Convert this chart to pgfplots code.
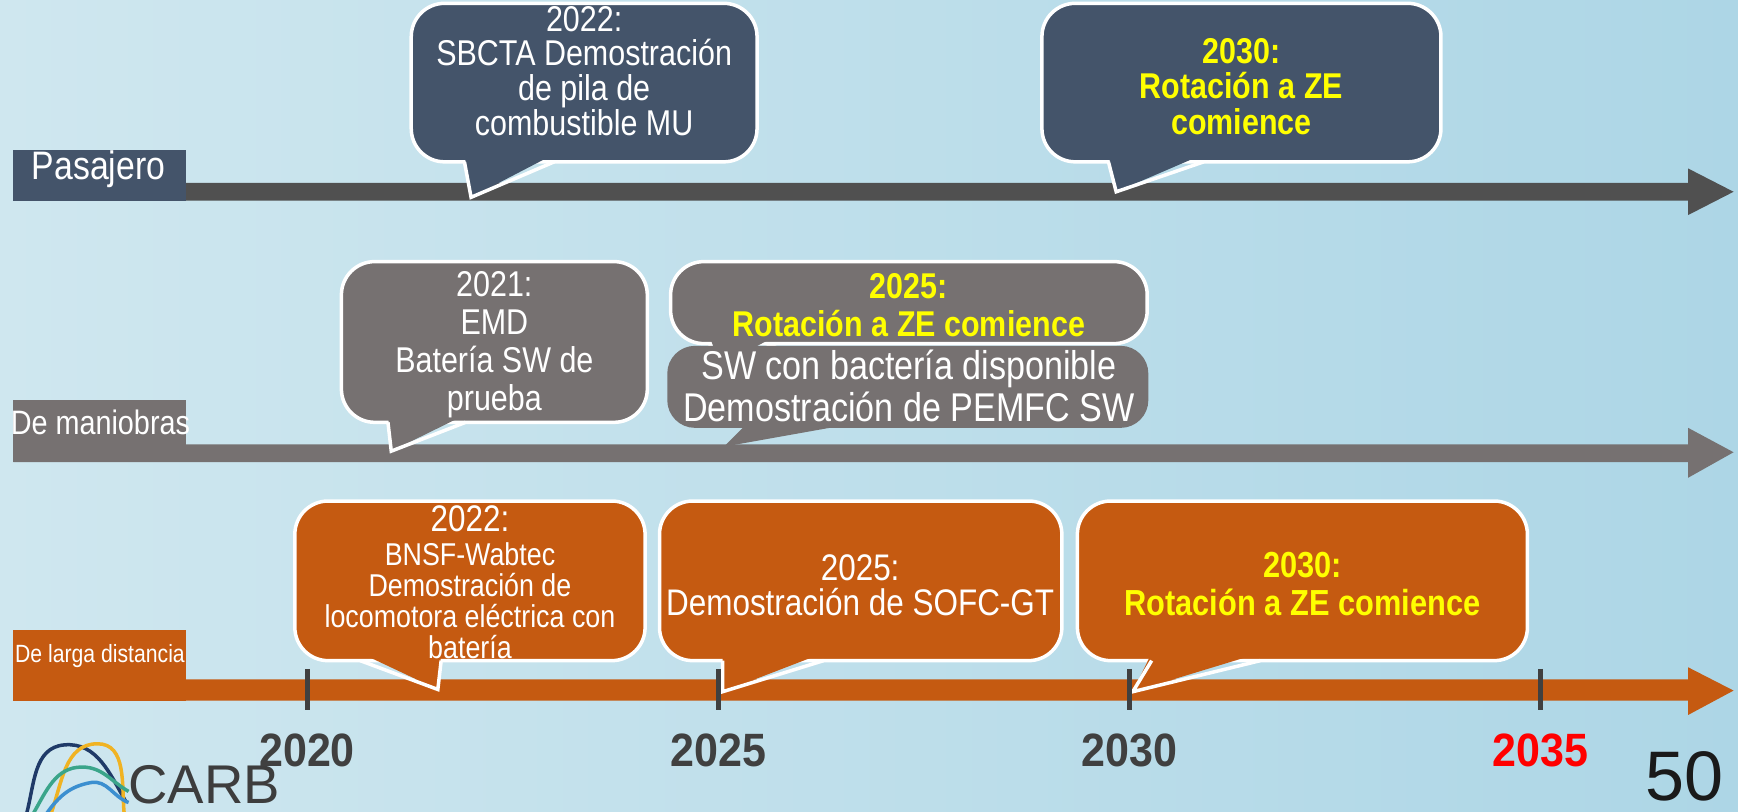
\documentclass[border=0pt]{standalone}
\usepackage{pgfplots}
\usepackage{pgfplotstable}
\pgfplotsset{compat=1.18}
\usepackage{fontspec}
\setmainfont{Liberation Sans}[FakeStretch=0.85]
\newfontfamily\yearfont{Liberation Sans}[FakeStretch=0.92]
\newfontfamily\logofont{Liberation Sans}
\definecolor{pas}{HTML}{44546A}
\definecolor{pasbar}{HTML}{505050}
\definecolor{man}{HTML}{767171}
\definecolor{lar}{HTML}{C55A11}
\definecolor{yel}{HTML}{FFFF00}
\definecolor{tickc}{HTML}{404040}
\definecolor{bgL}{HTML}{CFE7EF}
\definecolor{bgM}{HTML}{EEF8FB}
\definecolor{bgR}{HTML}{ADD6E6}

\pgfplotstableread{
year label
2020 2020
2025 2025
2030 2030
2035 2035
}\yearsall
\pgfplotstableread{
year label
2020 2020
2025 2025
2030 2030
}\yearsgray
\pgfplotstableread{
year label
2035 2035
}\yearsred

% bubble: fill, L, T, R, B, tail base 1, tip x, tip y, tail base 2
\newcommand{\bubble}[9]{%
  \filldraw[fill=#1, draw=white, line width=0.9pt, rounded corners=3mm] (#2,#3) rectangle (#4,#5);
  \fill[#1] (#6,#5-7) -- (#7,#8) -- (#9,#5-7) -- cycle;
  \draw[white, line width=0.9pt] (#6,#5) -- (#7,#8) -- (#9,#5);
}

\begin{document}
\begin{tikzpicture}
\begin{axis}[name=ax, at={(0,0)}, anchor=south west, scale only axis,
  width=15.68cm, height=7.32cm, xmin=0, xmax=1568, ymin=0, ymax=732,
  y dir=reverse, axis lines=none, clip=true]

% background
\shade[left color=bgL, middle color=bgM, right color=bgR] (0,0) rectangle (1568,732);

% timeline bars
\addplot[fill=pasbar, draw=none] coordinates {(12,165) (1523,165) (1523,152) (1564,173) (1523,194) (1523,181) (12,181)};
\addplot[fill=man, draw=none] coordinates {(12,401) (1523,401) (1523,386) (1564,408) (1523,431) (1523,417) (12,417)};
\addplot[fill=lar, draw=none] coordinates {(12,613) (1523,613) (1523,602) (1564,623) (1523,645) (1523,632) (12,632)};

% row labels
\fill[pas] (12,135) rectangle (168,181);
\fill[man] (12,361) rectangle (168,417);
\fill[lar] (12,568) rectangle (168,632);
\node[anchor=west, inner sep=0, text=white, font=\fontsize{10.2}{10.2}\selectfont] at (28,153) {Pasajero};
\node[anchor=west, inner sep=0, text=white, font=\fontsize{8.7}{8.7}\selectfont] at (9,381) {De maniobras};
\node[anchor=west, inner sep=0, text=white, font=\fontsize{6.4}{6.4}\selectfont] at (13,592) {De larga distancia};

% Pasajero bubbles
\bubble{pas}{371}{3}{683}{146}{419}{425}{178}{500}
\node[text=white, align=center, font=\fontsize{9.2}{8.9}\selectfont] at (527,64) {2022:\\SBCTA Demostración\\de pila de\\combustible MU};
\bubble{pas}{940}{3}{1300}{146}{1000}{1007}{173}{1086}
\node[text=yel, align=center, font=\bfseries\fontsize{9.2}{9.1}\selectfont] at (1120,78) {2030:\\Rotación a ZE\\comience};

% De maniobras bubbles
\bubble{man}{308}{236}{584}{381}{350}{353}{407}{420}
\node[text=white, align=center, font=\fontsize{9.2}{9.7}\selectfont] at (446,311) {2021:\\EMD\\Batería SW de\\prueba};
\bubble{man}{605}{236}{1035}{310}{640}{650}{330}{700}
\node[text=yel, align=center, font=\bfseries\fontsize{9.2}{9.7}\selectfont] at (820,275) {2025:\\Rotación a ZE comience};
\fill[man, rounded corners=2.5mm] (602,312) rectangle (1036,386);
\fill[man] (676,380) -- (653,403) -- (782,380) -- cycle;
\node[text=white, align=center, font=\fontsize{10.3}{10.8}\selectfont] at (820,348) {SW con bactería disponible\\Demostración de PEMFC SW};

% De larga distancia bubbles
\bubble{lar}{266}{452}{582}{596}{325}{395}{622}{398}
\node[text=white, font=\fontsize{9.5}{9.5}\selectfont] at (424,468) {2022:};
\node[text=white, align=center, font=\fontsize{8.1}{7.9}\selectfont] at (424,542) {BNSF-Wabtec\\Demostración de\\locomotora eléctrica con\\batería};
\bubble{lar}{595}{452}{958}{596}{652}{652}{624}{743}
\node[text=white, align=center, font=\fontsize{9.5}{8.8}\selectfont] at (776,528) {2025:\\Demostración de SOFC-GT};
\bubble{lar}{972}{452}{1378}{596}{1039}{1022}{624}{1137}
\node[text=yel, align=center, font=\bfseries\fontsize{9.3}{9.7}\selectfont] at (1175,527) {2030:\\Rotación a ZE comience};

% year ticks and labels
\addplot[only marks, mark=|, mark size=5.3pt, mark options={line width=1.3pt, draw=tickc}]
  table[x expr=277+(\thisrow{year}-2020)*74.2, y expr=622] {\yearsall};
\addplot[draw=none, nodes near coords, point meta=explicit symbolic,
  nodes near coords style={anchor=center, text=tickc, font=\yearfont\bfseries\fontsize{12}{12}\selectfont}]
  table[x expr=277+(\thisrow{year}-2020)*74.2, y expr=677, meta=label] {\yearsgray};
\addplot[draw=none, nodes near coords, point meta=explicit symbolic,
  nodes near coords style={anchor=center, text=red, font=\yearfont\bfseries\fontsize{12}{12}\selectfont}]
  table[x expr=277+(\thisrow{year}-2020)*74.2, y expr=677, meta=label] {\yearsred};

% CARB logo
\draw[color={rgb,255:red,31;green,58;blue,104}, line width=0.9pt] (24,734) to[out=75,in=185] (58,672) to[out=5,in=120] (114,724);
\draw[color={rgb,255:red,240;green,179;blue,35}, line width=0.9pt] (46,734) to[out=70,in=180] (88,671) to[out=0,in=95] (112,734);
\draw[color={rgb,255:red,58;green,165;blue,138}, line width=0.9pt] (30,734) to[out=60,in=180] (74,692) to[out=0,in=150] (116,714);
\draw[color={rgb,255:red,59;green,143;blue,208}, line width=0.9pt] (42,734) to[out=55,in=190] (82,706) to[out=10,in=160] (116,724);
\node[anchor=base west, inner sep=0, text={rgb,255:red,61;green,61;blue,61}, font=\logofont\fontsize{14}{14}\selectfont] at (115,725) {CARB};
\node[anchor=base east, inner sep=0, text={rgb,255:red,26;green,26;blue,26}, font=\logofont\fontsize{18}{18}\selectfont] at (1556,722) {50};
\end{axis}
\pgfresetboundingbox
\path[use as bounding box] (ax.south west) rectangle (ax.north east);
\end{tikzpicture}
\end{document}
